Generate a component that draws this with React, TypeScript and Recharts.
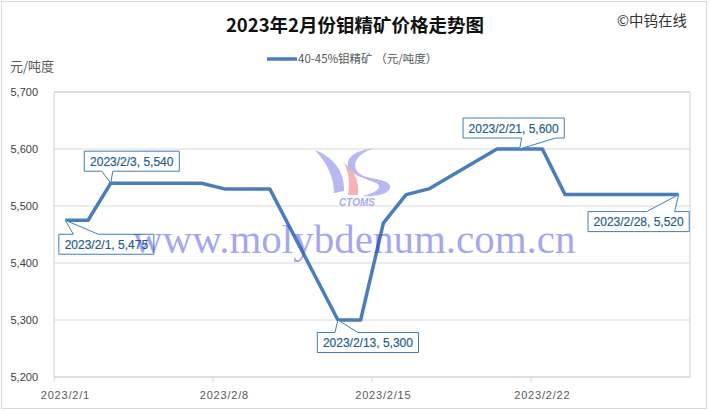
import React from "react";
import {
  LineChart,
  Line,
  XAxis,
  YAxis,
  CartesianGrid,
  ReferenceArea,
  ReferenceDot,
} from "recharts";

// February 2023 trading days; weekends carry no quote
const dates: string[] = [
  "2023/2/1", "2023/2/2", "2023/2/3", "2023/2/4", "2023/2/5", "2023/2/6", "2023/2/7",
  "2023/2/8", "2023/2/9", "2023/2/10", "2023/2/11", "2023/2/12", "2023/2/13", "2023/2/14",
  "2023/2/15", "2023/2/16", "2023/2/17", "2023/2/18", "2023/2/19", "2023/2/20", "2023/2/21",
  "2023/2/22", "2023/2/23", "2023/2/24", "2023/2/25", "2023/2/26", "2023/2/27", "2023/2/28",
];

// 40-45% molybdenum concentrate, yuan per tonne-degree
const prices: (number | null)[] = [
  5475, 5475, 5540, null, null, 5540, 5540,
  5530, 5530, 5530, null, null, 5300, 5300,
  5470, 5520, 5530, null, null, 5600, 5600,
  5600, 5520, 5520, null, null, 5520, 5520,
];

const xTickDates: string[] = ["2023/2/1", "2023/2/8", "2023/2/15", "2023/2/22"];
const yTicks: number[] = [5200, 5300, 5400, 5500, 5600, 5700];
const calloutDates: string[] = ["2023/2/1", "2023/2/3", "2023/2/13", "2023/2/21", "2023/2/28"];

const seriesName = "40-45%钼精矿 （元/吨度）";
const chartTitle = "2023年2月份钼精矿价格走势图";

const rows = dates.map((date, i) => ({ day: i + 1, date, price: prices[i] }));

const W = 710;
const H = 411;
const PLOT_LEFT = 54;
const PLOT_RIGHT = 690;
const PLOT_TOP = 92;
const PLOT_BOTTOM = 377;
const DAY_PX = (PLOT_RIGHT - PLOT_LEFT) / dates.length;

const LINE_COLOR = "#4a7ebb";
const GRID_COLOR = "#d9d9d9";
const AXIS_TEXT = "#595959";
const NUM_FONT = "'Liberation Sans', 'Noto Sans CJK SC', sans-serif";
const CJK_FONT = "'Noto Sans CJK SC', 'Liberation Sans', sans-serif";

// callout box placement relative to its point; wedge base offsets are relative to the point x
type Placement = { dx: number; dy: number; side: "top" | "bottom"; base: [number, number] };
const placements: Record<string, Placement> = {
  "2023/2/1": { dx: 41, dy: 24, side: "top", base: [8, 33] },
  "2023/2/3": { dx: 21, dy: -22, side: "bottom", base: [-9, 2] },
  "2023/2/13": { dx: 30, dy: 22.5, side: "top", base: [-3, 20] },
  "2023/2/21": { dx: -6, dy: -21, side: "bottom", base: [2, 36] },
  "2023/2/28": { dx: -40, dy: 27, side: "top", base: [-32, -4] },
};

const fmt = (v: number) => v.toLocaleString("en-US");

function Callout(props: any) {
  const { cx, cy, date, value } = props;
  if (cx == null || cy == null) return null;
  const p = placements[date];
  const text = `${date}, ${fmt(value)}`;
  const w = text.length * 6.2 + 2;
  const h = 20;
  const l = cx + p.dx - w / 2;
  const t = cy + p.dy - h / 2;
  const a = cx + p.base[0];
  const b = cx + p.base[1];
  let d: string;
  if (p.side === "top") {
    d = `M${l},${t} L${a},${t} L${cx},${cy} L${b},${t} L${l + w},${t} L${l + w},${t + h} L${l},${t + h} Z`;
  } else {
    d = `M${l},${t} L${l + w},${t} L${l + w},${t + h} L${b},${t + h} L${cx},${cy} L${a},${t + h} L${l},${t + h} Z`;
  }
  return (
    <g>
      <path d={d} fill="#ffffff" stroke="#3f7fb5" strokeWidth={1} />
      <text
        x={l + w / 2}
        y={t + h / 2 + 4.5}
        textAnchor="middle"
        fontFamily={NUM_FONT}
        fontSize={12}
        fill="#1f5f8e"
        stroke="#1f5f8e"
        strokeWidth={0.2}
      >
        {text}
      </text>
    </g>
  );
}

function DateTick(props: any) {
  const { x, payload } = props;
  const label = dates[payload.value - 1];
  const edge = x - DAY_PX / 2;
  return (
    <g>
      <line x1={edge} x2={edge} y1={PLOT_BOTTOM} y2={PLOT_BOTTOM + 5} stroke={GRID_COLOR} />
      <text
        x={x}
        y={PLOT_BOTTOM + 22}
        textAnchor="middle"
        fontFamily={NUM_FONT}
        fontSize={11}
        letterSpacing={0.8}
        fill={AXIS_TEXT}
      >
        {label}
      </text>
    </g>
  );
}

function Logo() {
  return (
    <g opacity={0.85}>
      <path
        d="M315,150 C328,155 345,167 344,191 L334,193 C334,177 327,163 315,150 Z"
        fill="#acacf0"
      />
      <path
        d="M344,163 C354,170 360,182 358,195 L348,195 C350,184 349,173 344,163 Z"
        fill="#f6a4ab"
      />
      <path
        d="M374,148 C356,154 350,166 360,174 C368,180 388,178 390,186 C391,194 376,197 362,196 C380,192 382,186 376,183 C364,178 346,174 348,162 C350,154 360,150 374,148 Z"
        fill="#acacf0"
      />
      <text
        x={357}
        y={206}
        textAnchor="middle"
        fontFamily={NUM_FONT}
        fontSize={10}
        fontWeight="bold"
        fontStyle="italic"
        fill="#9a9af0"
      >
        CTOMS
      </text>
    </g>
  );
}

function Overlay() {
  return (
    <svg
      width={W}
      height={H}
      style={{ position: "absolute", left: 0, top: 0, pointerEvents: "none" }}
    >
      <rect x={1.5} y={1.5} width={705} height={407} fill="none" stroke={GRID_COLOR} />
      <text
        x={355}
        y={32}
        textAnchor="middle"
        fontFamily={CJK_FONT}
        fontSize={18.5}
        fontWeight="bold"
        fill="#111111"
      >
        {chartTitle}
      </text>
      <text x={687} y={26} textAnchor="end" fontFamily={CJK_FONT} fontSize={14.5} fill="#333333">
        ©中钨在线
      </text>
      <line x1={267} x2={297} y1={59} y2={59} stroke={LINE_COLOR} strokeWidth={3.5} />
      <text x={298} y={63} fontFamily={CJK_FONT} fontSize={11.5} fill={AXIS_TEXT}>
        {seriesName}
      </text>
      <text x={10} y={71} fontFamily={CJK_FONT} fontSize={13} fill={AXIS_TEXT}>
        元/吨度
      </text>
      <Logo />
      <text
        x={133}
        y={253}
        fontFamily="'Liberation Serif', 'DejaVu Serif', serif"
        fontSize={41}
        fill="#3c3cdc"
        opacity={0.45}
      >
        www.molybdenum.com.cn
      </text>
    </svg>
  );
}

export default function App() {
  const xTicks = xTickDates.map((d) => dates.indexOf(d) + 1);
  return (
    <div style={{ position: "absolute", left: 0, top: 0, width: W, height: H, background: "#ffffff" }}>
      <LineChart
        width={W}
        height={H}
        data={rows}
        margin={{ top: PLOT_TOP, right: W - PLOT_RIGHT, bottom: 0, left: 0 }}
      >
        <CartesianGrid vertical={false} stroke={GRID_COLOR} />
        <XAxis
          type="number"
          dataKey="day"
          domain={[0.5, dates.length + 0.5]}
          ticks={xTicks}
          allowDataOverflow
          height={H - PLOT_BOTTOM}
          axisLine={false}
          tickLine={false}
          tickSize={0}
          tick={<DateTick />}
          interval={0}
        />
        <YAxis
          type="number"
          domain={[5200, 5700]}
          ticks={yTicks}
          width={PLOT_LEFT}
          axisLine={false}
          tickLine={false}
          tickSize={0}
          tickMargin={16}
          tickFormatter={fmt}
          tick={{ fill: "#404040", fontSize: 11, fontFamily: NUM_FONT }}
          interval={0}
        />
        <ReferenceArea
          x1={0.5}
          x2={dates.length + 0.5}
          y1={5200}
          y2={5700}
          fill="none"
          stroke="#d0d0d0"
          strokeWidth={1}
        />
        <Line
          type="linear"
          dataKey="price"
          stroke={LINE_COLOR}
          strokeWidth={3.5}
          strokeLinejoin="round"
          dot={false}
          activeDot={false}
          connectNulls
          isAnimationActive={false}
        />
        {calloutDates.map((d) => {
          const i = dates.indexOf(d);
          return (
            <ReferenceDot
              key={d}
              x={i + 1}
              y={prices[i] as number}
              r={0}
              shape={(p: any) => <Callout {...p} date={d} value={prices[i]} />}
            />
          );
        })}
      </LineChart>
      <Overlay />
    </div>
  );
}
